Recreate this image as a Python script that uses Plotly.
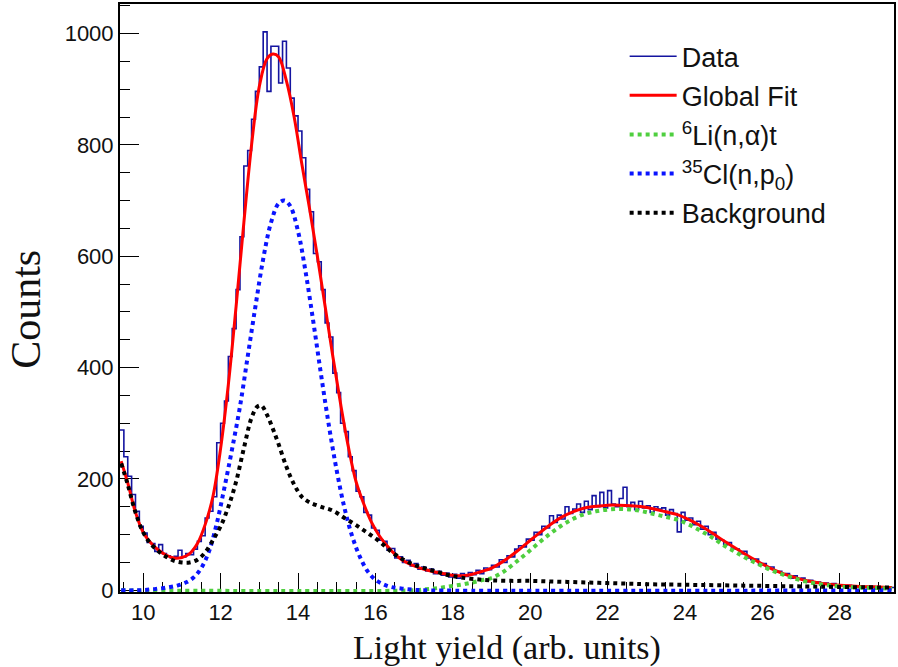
import plotly.graph_objects as go

# ---- histogram: light-yield spectrum, 0.1-wide bins from 9.4 to 29.4 ----
bin_lo = 9.4
bin_width = 0.1
counts = [
    288, 240, 205, 172, 142, 115, 103, 86, 84, 70,
    82, 66, 62, 58, 61, 72, 60, 66, 64, 74,
    88, 98, 130, 142, 168, 265, 300, 340, 420, 470,
    540, 635, 762, 790, 846, 896, 940, 1003, 896, 977,
    977, 911, 986, 938, 884, 852, 825, 777, 720, 680,
    605, 590, 540, 480, 455, 390, 355, 300, 285, 240,
    215, 178, 168, 140, 135, 112, 108, 90, 88, 72,
    75, 58, 60, 50, 54, 44, 48, 38, 42, 35,
    38, 30, 34, 27, 31, 24, 29, 22, 30, 25,
    32, 28, 36, 30, 40, 37, 45, 42, 55, 50,
    62, 60, 74, 80, 78, 92, 90, 104, 100, 115,
    112, 134, 122, 135, 128, 150, 138, 146, 155, 140,
    160, 145, 170, 150, 176, 148, 179, 155, 150, 165,
    185, 150, 158, 145, 160, 148, 152, 140, 150, 146,
    148, 135, 145, 138, 105, 140, 126, 130, 118, 124,
    110, 115, 100, 104, 92, 90, 82, 86, 75, 74,
    66, 70, 58, 55, 56, 46, 48, 40, 42, 33,
    34, 28, 30, 22, 26, 20, 22, 15, 18, 13,
    15, 10, 13, 9, 12, 8, 10, 7, 9, 6,
    8, 6, 7, 5, 7, 4, 6, 5, 4, 5,
]

# ---- global fit ----
fit_x = [9.43, 9.6, 9.8, 10.0, 10.2, 10.4, 10.6, 10.8, 11.0, 11.2, 11.4, 11.6,
         11.8, 12.0, 12.2, 12.4, 12.6, 12.8, 13.0, 13.2, 13.35, 13.5, 13.7,
         13.9, 14.1, 14.3, 14.5, 14.7, 14.9, 15.1, 15.3, 15.5, 15.7, 15.9,
         16.1, 16.3, 16.5, 16.7, 17.0, 17.3, 17.6, 17.9, 18.2, 18.5, 18.8,
         19.0, 19.3, 19.6, 19.9, 20.2, 20.5, 20.8, 21.1, 21.4, 21.7, 22.0,
         22.3, 22.6, 22.9, 23.2, 23.5, 23.8, 24.1, 24.4, 24.7, 25.0, 25.3,
         25.6, 25.9, 26.2, 26.5, 26.8, 27.1, 27.4, 27.7, 28.0, 28.5, 29.0, 29.35]
fit_y = [232, 193, 140, 104, 85, 72, 63, 58, 59, 66, 84, 118,
         168, 255, 370, 510, 660, 800, 905, 955, 963, 958, 915,
         850, 765, 685, 600, 510, 420, 335, 258, 195, 155, 122,
         98, 80, 65, 54, 44, 37, 32, 28, 26, 29, 35,
         40, 52, 67, 84, 101, 117, 131, 141, 148, 151, 153,
         153, 152, 150, 146, 141, 136, 127, 116, 103, 89, 76,
         63, 51, 40, 31, 24, 18, 14, 11, 9, 7, 6, 5]

# ---- 6Li(n,alpha)t component ----
li_x = [9.43, 17.0, 17.3, 17.6, 17.9, 18.2, 18.5, 18.8, 19.0, 19.3, 19.6, 19.9,
        20.2, 20.5, 20.8, 21.1, 21.4, 21.7, 22.0, 22.3, 22.6, 22.9, 23.2, 23.5,
        23.8, 24.1, 24.4, 24.7, 25.0, 25.3, 25.6, 25.9, 26.2, 26.5, 26.8, 27.1,
        27.4, 27.7, 28.0, 28.5, 29.0, 29.35]
li_y = [0, 0, 2, 4, 7, 10, 14, 19, 22, 33, 49, 66,
        84, 101, 116, 128, 137, 142, 145, 146, 145, 142, 137, 132,
        127, 118, 107, 95, 81, 69, 57, 47, 37, 29, 22, 16,
        12, 9, 7, 5, 4, 3]

# ---- 35Cl(n,p0) component ----
cl_x = [9.43, 9.8, 10.1, 10.4, 10.7, 10.9, 11.1, 11.3, 11.5, 11.7, 11.9, 12.1,
        12.3, 12.5, 12.7, 12.9, 13.1, 13.3, 13.5, 13.65, 13.8, 14.0, 14.2, 14.4,
        14.6, 14.8, 15.0, 15.2, 15.4, 15.6, 15.8, 16.0, 16.2, 16.4, 16.7, 17.0,
        17.3, 29.35]
cl_y = [0, 0, 1, 3, 6, 9, 14, 23, 40, 70, 120, 185,
        255, 330, 420, 510, 595, 660, 695, 700, 690, 645, 570, 480,
        385, 295, 215, 148, 97, 60, 34, 19, 11, 6, 3, 1,
        0, 0]

# ---- background component ----
bg_x = [9.43, 9.6, 9.8, 10.0, 10.2, 10.4, 10.6, 10.8, 11.0, 11.2, 11.4, 11.6,
        11.8, 12.0, 12.2, 12.4, 12.6, 12.8, 12.95, 13.05, 13.2, 13.35, 13.5,
        13.7, 13.9, 14.1, 14.3, 14.6, 14.9, 15.2, 15.5, 15.8, 16.1, 16.4, 16.7,
        17.0, 17.3, 17.6, 17.9, 18.2, 18.6, 19.0, 19.5, 20.0, 20.5, 21.0, 21.5,
        22.0, 22.5, 23.0, 24.0, 25.0, 26.0, 27.0, 28.0, 29.35]
bg_y = [228, 190, 140, 104, 83, 70, 60, 53, 50, 50, 55, 68,
        90, 115, 150, 195, 255, 310, 330, 332, 315, 290, 262,
        222, 190, 168, 158, 150, 143, 130, 117, 103, 88, 70, 56,
        46, 39, 33, 27, 23, 20, 18, 17, 17, 16, 15, 14,
        13, 12, 11, 10, 9, 8, 7, 6, 5]

edges = [bin_lo + bin_width * k for k in range(len(counts) + 1)]

fig = go.Figure()
fig.add_trace(go.Scatter(
    x=edges, y=counts + [counts[-1]], mode="lines", line_shape="hv",
    line=dict(color="#1414a0", width=1.6), name="Data", legendgroup="a"))
fig.add_trace(go.Scatter(
    x=fit_x, y=fit_y, mode="lines", line_shape="spline",
    line=dict(color="#ff0000", width=3), name="Global Fit", legendgroup="b"))
fig.add_trace(go.Scatter(
    x=li_x, y=li_y, mode="lines", line_shape="spline",
    line=dict(color="#4fcf3f", width=4, dash="dot"),
    name="<sup>6</sup>Li(n,α)t", legendgroup="c"))
fig.add_trace(go.Scatter(
    x=cl_x, y=cl_y, mode="lines", line_shape="spline",
    line=dict(color="#0a14ff", width=4, dash="dot"),
    name="<sup>35</sup>Cl(n,p<sub>0</sub>)", legendgroup="d"))
fig.add_trace(go.Scatter(
    x=bg_x, y=bg_y, mode="lines", line_shape="spline",
    line=dict(color="#000000", width=4, dash="dot"),
    name="Background", legendgroup="e"))

tick_font = dict(family="Liberation Sans, Arial, sans-serif", size=22, color="#111")
serif = "Liberation Serif, Times New Roman, serif"

fig.update_layout(
    width=898, height=667,
    margin=dict(l=120, r=3, t=2, b=75),
    paper_bgcolor="white", plot_bgcolor="white",
    showlegend=True,
    legend=dict(
        x=0.652, y=0.952, xanchor="left", yanchor="top",
        bgcolor="rgba(0,0,0,0)", borderwidth=0,
        font=dict(family="Liberation Sans, Arial, sans-serif", size=27, color="#111"),
        tracegroupgap=1, itemwidth=47,
    ),
    xaxis=dict(
        range=[9.4, 29.4], dtick=2, tick0=0,
        showgrid=False, zeroline=False, layer="below traces",
        showline=True, mirror=True, linecolor="black", linewidth=2,
        ticks="inside", ticklen=19, tickwidth=1.2, tickcolor="black",
        minor=dict(ticks="inside", ticklen=10, dtick=0.5, tick0=0,
                   tickwidth=1.2, tickcolor="black", showgrid=False),
        tickfont=tick_font,
        title=dict(text="Light yield (arb. units)", standoff=12,
                   font=dict(family=serif, size=34, color="#111")),
    ),
    yaxis=dict(
        range=[-3, 1053], dtick=200, tick0=0,
        showgrid=False, zeroline=False, layer="below traces",
        showline=True, mirror=True, linecolor="black", linewidth=2,
        ticks="inside", ticklen=19, tickwidth=1.2, tickcolor="black",
        minor=dict(ticks="inside", ticklen=10, dtick=50, tick0=0,
                   tickwidth=1.2, tickcolor="black", showgrid=False),
        tickfont=tick_font,
    ),
    annotations=[dict(
        text="Counts", textangle=-90, showarrow=False,
        xref="paper", yref="paper", x=-0.1213, y=0.48,
        xanchor="center", yanchor="middle",
        font=dict(family=serif, size=42, color="#111"),
    )],
)

fig.write_html("out.html")
